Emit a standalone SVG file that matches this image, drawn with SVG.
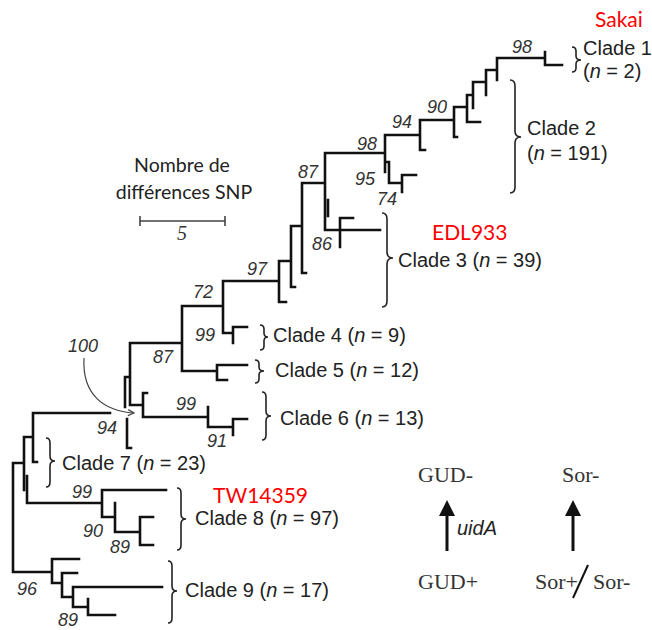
<svg xmlns="http://www.w3.org/2000/svg" width="652" height="630" viewBox="0 0 652 630">
<style>
.br{fill:none;stroke:#111;stroke-width:2.6;stroke-linecap:square}
.bc{fill:none;stroke:#222;stroke-width:1.6}
.cl{font-family:"Liberation Sans",Arial,sans-serif;font-size:20px;fill:#222}
.bs{font-family:"Liberation Sans",Arial,sans-serif;font-size:18px;font-style:italic;fill:#333}
.red{font-family:Lato,"Open Sans",sans-serif;font-size:21px;fill:#ff0000}
.sc{font-family:Lato,"Open Sans",sans-serif;font-size:19.5px;fill:#222}
.tm{font-family:"Liberation Serif","Times New Roman",serif;font-size:22px;fill:#333}
</style>
<defs>
<marker id="oa" markerWidth="10" markerHeight="10" refX="8" refY="5" orient="auto" markerUnits="userSpaceOnUse">
<path d="M2 2 L8 5 L2 8" fill="none" stroke="#444" stroke-width="1.2"/>
</marker>
</defs>
<rect width="652" height="630" fill="#fff"/>
<g id="connectors">
<path class="br" d="M13 463 V572 M13 463 H24 M13 572 H52
M24 437 V490 M27 476 V503 H102 M24 437 H33 M33 413 V462 H37 M33 413 H110
M102 490 V517 H115 M102 490 H166 M115 503 V532 H140 M140 517 V545 M140 517 H153 M140 545 H153
M52 559 V583 H62 M52 559 H79 M62 573 V597 H73 M62 573 H77 M73 587 V607 H88 M73 587 H162 M88 599 V615 H115
M125 377 V407 M125 377 H130 M127 419 V448 H131 M130 343 V405 H143 M130 343 H182
M143 393 V417 H208 M143 393 H147 M208 407 V427 H233 M233 419 V435 M233 419 H247
M182 306 V371 H217 M182 306 H223 M217 365 V380 H227 M217 365 H247
M223 281 V333 H233 M233 327 V343 M233 327 H247 M223 281 H279
M279 261 V302 H286 M279 261 H291 M291 226 V287 H295 M291 226 H302
M302 183 V273 H306 M302 183 H325 M325 153 V230 H340 M328 200 V216
M340 218 V247 M340 218 H353 M340 230 H380 M325 153 H385
M385 135 V172 M385 162 H389 M389 162 V183 H402 M402 175 V192 M402 175 H416
M385 135 H420 M420 120 V150 H425 M420 120 H454 M454 107 V137 H457 M454 107 H467
M467 95 V122 H480 M467 95 H473 M473 82 V108 M473 82 H486 M486 70 V95 M486 70 H497
M497 58 V80 M497 58 H545 M545 52 V65 H562"/>
<path d="M84 358 C 82 395, 104 411, 134 413" fill="none" stroke="#444" stroke-width="1.2" marker-end="url(#oa)"/>
</g>
<g id="clade1">
<path class="bc" d="M572 47 Q576 47 576 51 L576 56 Q576 60 581 60 Q576 60 576 64 L576 68 Q576 72 572 72"/>
<text class="cl" x="583" y="55">Clade 1</text>
<text class="cl" x="583" y="78">(<tspan font-style="italic">n</tspan> = 2)</text>
</g>
<g id="clade2">
<path class="bc" d="M510 80 Q515 80 515 86 L515 131 Q515 137 521 137 Q515 137 515 143 L515 187 Q515 193 510 193"/>
<text class="cl" x="527" y="135">Clade 2</text>
<text class="cl" x="527" y="160">(<tspan font-style="italic">n</tspan> = 191)</text>
</g>
<g id="clade3">
<path class="bc" d="M382 213 Q387 213 387 219 L387 252 Q387 258 393 258 Q387 258 387 264 L387 301 Q387 307 382 307"/>
<text class="cl" x="398" y="267">Clade 3 (<tspan font-style="italic">n</tspan> = 39)</text>
</g>
<g id="clade4">
<path class="bc" d="M260 325 Q264 325 264 329 L264 333 Q264 337 268 337 Q264 337 264 341 L264 346 Q264 350 260 350"/>
<text class="cl" x="273" y="342">Clade 4 (<tspan font-style="italic">n</tspan> = 9)</text>
</g>
<g id="clade5">
<path class="bc" d="M255 360 Q259 360 259 364 L259 367 Q259 371 264 371 Q259 371 259 375 L259 379 Q259 383 255 383"/>
<text class="cl" x="275" y="377">Clade 5 (<tspan font-style="italic">n</tspan> = 12)</text>
</g>
<g id="clade6">
<path class="bc" d="M262 392 Q266 392 266 397 L266 411 Q266 416 271 416 Q266 416 266 421 L266 435 Q266 440 262 440"/>
<text class="cl" x="280" y="425">Clade 6 (<tspan font-style="italic">n</tspan> = 13)</text>
</g>
<g id="clade7">
<path class="bc" d="M46 438 Q50 438 50 443 L50 456 Q50 461 55 461 Q50 461 50 466 L50 482 Q50 487 46 487"/>
<text class="cl" x="62" y="470">Clade 7 (<tspan font-style="italic">n</tspan> = 23)</text>
</g>
<g id="clade8">
<path class="bc" d="M177 488 Q181 488 181 493 L181 514 Q181 519 186 519 Q181 519 181 524 L181 545 Q181 550 177 550"/>
<text class="cl" x="195" y="525">Clade 8 (<tspan font-style="italic">n</tspan> = 97)</text>
</g>
<g id="clade9">
<path class="bc" d="M168 561 Q172 561 172 566 L172 586 Q172 591 177 591 Q172 591 172 596 L172 618 Q172 623 168 623"/>
<text class="cl" x="185" y="597">Clade 9 (<tspan font-style="italic">n</tspan> = 17)</text>
</g>
<g id="strains">
<text class="red" x="595" y="27" font-size="22.5">Sakai</text>
<text class="red" x="432" y="240">EDL933</text>
<text class="red" x="213" y="503">TW14359</text>
</g>
<g id="bootstrap">
<text class="bs" x="512" y="53">98</text>
<text class="bs" x="427" y="113">90</text>
<text class="bs" x="392" y="128">94</text>
<text class="bs" x="357" y="150">98</text>
<text class="bs" x="355" y="185">95</text>
<text class="bs" x="377" y="205">74</text>
<text class="bs" x="298" y="178">87</text>
<text class="bs" x="312" y="250">86</text>
<text class="bs" x="247" y="275">97</text>
<text class="bs" x="193" y="298">72</text>
<text class="bs" x="195" y="341">99</text>
<text class="bs" x="153" y="363">87</text>
<text class="bs" x="68" y="352">100</text>
<text class="bs" x="176" y="410">99</text>
<text class="bs" x="207" y="447">91</text>
<text class="bs" x="97" y="434">94</text>
<text class="bs" x="72" y="498">99</text>
<text class="bs" x="83" y="537">90</text>
<text class="bs" x="110" y="553">89</text>
<text class="bs" x="17" y="595">96</text>
<text class="bs" x="58" y="626">89</text>
</g>
<g id="scale">
<text class="sc" x="182" y="172" text-anchor="middle">Nombre de</text>
<text class="sc" x="184" y="199" text-anchor="middle">différences SNP</text>
<path d="M140 221 H225 M140 216 V226 M225 216 V226" fill="none" stroke="#444" stroke-width="1.6"/>
<text x="177" y="240" font-family="'Liberation Serif',serif" font-style="italic" font-size="20" fill="#333">5</text>
</g>
<g id="legend">
<text class="tm" x="418" y="482">GUD-</text>
<text class="tm" x="562" y="482">Sor-</text>
<text class="tm" x="418" y="589">GUD+</text>
<text class="tm" x="535" y="589">Sor+</text>
<text class="tm" x="593" y="589">Sor-</text>
<path d="M447 551 V512 M573 551 V512" stroke="#111" stroke-width="3" fill="none"/>
<path d="M447 500 L455 516 L439 516 Z M573 500 L581 516 L565 516 Z" fill="#111"/>
<text x="457" y="535" font-family="'Liberation Sans',Arial,sans-serif" font-style="italic" font-size="20" fill="#222">uidA</text>
<path d="M573 598 L588 565" stroke="#111" stroke-width="2" fill="none"/>
</g>
</svg>
